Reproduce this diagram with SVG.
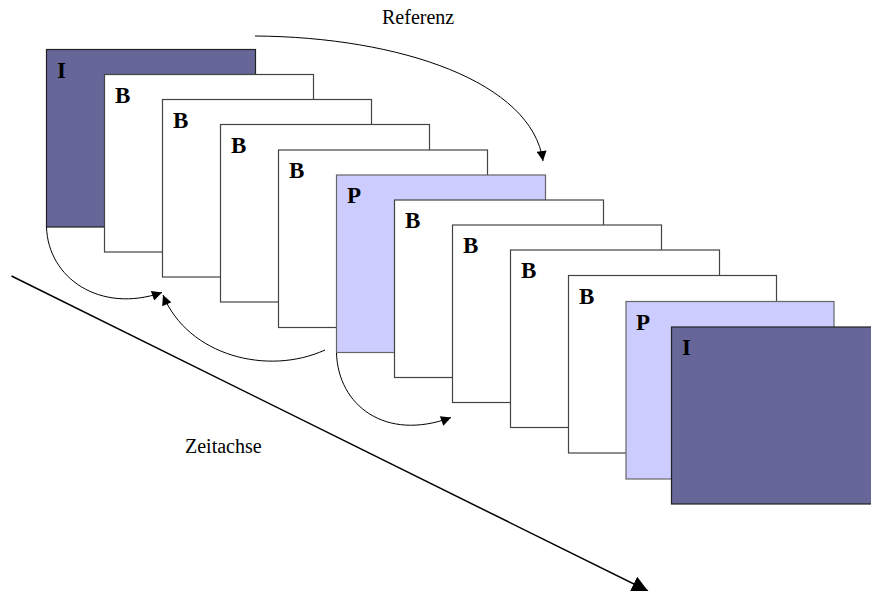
<svg xmlns="http://www.w3.org/2000/svg" width="871" height="591" viewBox="0 0 871 591">
<defs>
<style>
.fr{stroke-width:1.2}
.i{fill:#666699;stroke:#222}
.b{fill:#ffffff;stroke:#444}
.p{fill:#ccccff;stroke:#666}
.lb{font-family:"Liberation Serif",serif;font-weight:bold;font-size:23px;fill:#000}
.tx{font-family:"Liberation Serif",serif;font-size:20px;fill:#000}
.c{fill:none;stroke:#000;stroke-width:1}
</style>
<marker id="ah" viewBox="0 0 10 10" refX="10" refY="5" markerWidth="11" markerHeight="10" markerUnits="userSpaceOnUse" orient="auto"><path d="M0,0L10,5L0,10z" fill="#000"/></marker>
<marker id="big" viewBox="0 0 10 10" refX="10" refY="5" markerWidth="16" markerHeight="16" markerUnits="userSpaceOnUse" orient="auto"><path d="M0,0L10,5L0,10z" fill="#000"/></marker>
</defs>
<g id="frame1"><rect class="fr i" x="46.5" y="49.5" width="209" height="177.5"/><text class="lb" x="57" y="77.5">I</text></g>
<g id="frame2"><rect class="fr b" x="104.5" y="74.5" width="209" height="177.5"/><text class="lb" x="115" y="102.5">B</text></g>
<g id="frame3"><rect class="fr b" x="162.5" y="99.5" width="209" height="177.5"/><text class="lb" x="173" y="127.5">B</text></g>
<g id="frame4"><rect class="fr b" x="220.5" y="124.5" width="209" height="177.5"/><text class="lb" x="231" y="152.5">B</text></g>
<g id="frame5"><rect class="fr b" x="278.5" y="150" width="209" height="177.5"/><text class="lb" x="289" y="178">B</text></g>
<g id="frame6"><rect class="fr p" x="336.5" y="175" width="209" height="177.5"/><text class="lb" x="347" y="203">P</text></g>
<g id="frame7"><rect class="fr b" x="394.5" y="200" width="209" height="177.5"/><text class="lb" x="405" y="228">B</text></g>
<g id="frame8"><rect class="fr b" x="452.5" y="225" width="209" height="177.5"/><text class="lb" x="463" y="253">B</text></g>
<g id="frame9"><rect class="fr b" x="510.5" y="250" width="209" height="177.5"/><text class="lb" x="521" y="278">B</text></g>
<g id="frame10"><rect class="fr b" x="568.5" y="275.5" width="208" height="177.5"/><text class="lb" x="579" y="303.5">B</text></g>
<g id="frame11"><rect class="fr p" x="626" y="301.5" width="208" height="177.5"/><text class="lb" x="636" y="329.5">P</text></g>
<g id="frame12"><rect class="fr i" x="671.5" y="327" width="209" height="177"/><text class="lb" x="682" y="355">I</text></g>
<g id="connectors">
<path class="c" d="M255,36 C400,37 532,82 543,161" marker-end="url(#ah)"/>
<path class="c" d="M46.5,227 C48,278 100,314 162,292.5" marker-end="url(#ah)"/>
<path class="c" d="M325,350 C268,376 188,356 163,295" marker-end="url(#ah)"/>
<path class="c" d="M336.5,353 C338,405 385,442 451,417.5" marker-end="url(#ah)"/>
<path class="c" d="M11.5,276 L648,591" style="stroke-width:1.5" marker-end="url(#big)"/>
</g>
<text class="tx" x="382" y="24">Referenz</text>
<text class="tx" x="185" y="453">Zeitachse</text>
</svg>
